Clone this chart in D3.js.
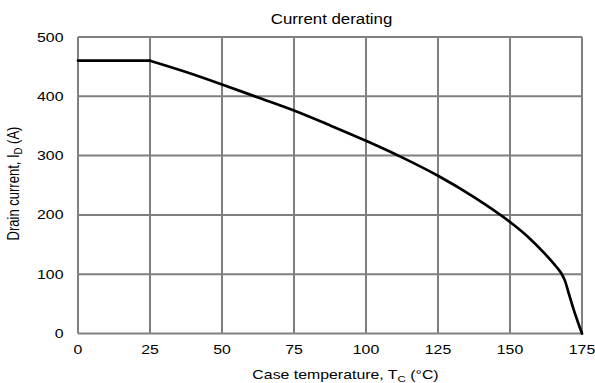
<!DOCTYPE html>
<html><head><meta charset="utf-8">
<script src="https://cdn.jsdelivr.net/npm/d3@7"></script>
<style>body{margin:0;background:#fff}svg{display:block}text{font-family:"Liberation Sans",Arial,sans-serif;fill:#000}</style>
</head><body>
<svg id="c" width="595" height="383"></svg>
<script>
const temps = [0, 25, 37.5, 50, 62.5, 75, 87.5, 100, 112.5, 125, 137.5, 150, 156, 162, 166, 168, 169, 170.5, 172, 175];
const current = [460, 460, 441, 420, 398, 376, 351, 325, 297, 266, 230, 188, 164, 135, 113, 100, 90, 66, 42, 0];
const xTicks = [0, 25, 50, 75, 100, 125, 150, 175];
const yTicks = [0, 100, 200, 300, 400, 500];

const SX = 1.22; // horizontal stretch of the text in the reference
const svg = d3.select("#c");
const x = d3.scaleLinear().domain([0, 175]).range([78, 582]);
const y = d3.scaleLinear().domain([0, 500]).range([333.5, 37]);

const grid = svg.append("g").attr("stroke", "#808080").attr("stroke-width", 2);
xTicks.forEach(t => grid.append("line").attr("x1", x(t)).attr("x2", x(t)).attr("y1", y(0)).attr("y2", y(500)));
yTicks.forEach(t => grid.append("line").attr("x1", x(0)).attr("x2", x(175)).attr("y1", y(t)).attr("y2", y(t)));

const pts = temps.map((t, i) => [t, current[i]]);
const lineFlat = d3.line().x(d => x(d[0])).y(d => y(d[1]));
const lineCurve = d3.line().x(d => x(d[0])).y(d => y(d[1])).curve(d3.curveMonotoneX);
const curve = svg.append("g").attr("fill", "none").attr("stroke", "#000").attr("stroke-width", 2.7)
  .attr("stroke-linejoin", "round").attr("stroke-linecap", "round");
curve.append("path").attr("d", lineFlat(pts.slice(0, 2)));
curve.append("path").attr("d", lineCurve(pts.slice(1)));

function txt(px, py, anchor, size, extra) {
  return svg.append("text")
    .attr("transform", `translate(${px},${py}) scale(${SX},1)` + (extra || ""))
    .attr("text-anchor", anchor).attr("font-size", size);
}

yTicks.forEach(t => txt(63.5, y(t) + 4.5, "end", 13).text(t));
xTicks.forEach(t => txt(x(t), 354, "middle", 13).text(t));

txt(331.5, 23.5, "middle", 13.8).text("Current derating");

const xl = txt(345.5, 379, "middle", 13);
xl.append("tspan").text("Case temperature, T");
xl.append("tspan").attr("font-size", 9.5).attr("dy", 3).text("C");
xl.append("tspan").attr("dy", -3).text(" (°C)");

const yl = txt(18.5, 183.5, "middle", 13, " rotate(-90)");
yl.append("tspan").text("Drain current, I");
yl.append("tspan").attr("font-size", 9.5).attr("dy", 3).text("D");
yl.append("tspan").attr("dy", -3).text(" (A)");
</script>
</body></html>
